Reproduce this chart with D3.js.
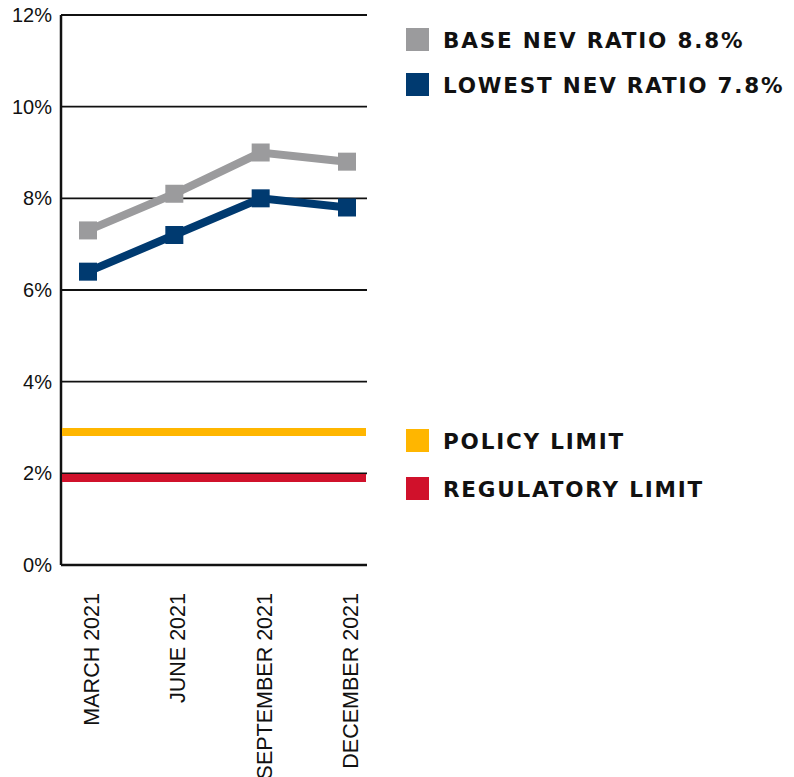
<!DOCTYPE html>
<html>
<head>
<meta charset="utf-8">
<script src="https://cdn.jsdelivr.net/npm/d3@7"></script>
<style>
  body { margin: 0; background: #fff; }
  .tick-y { font-family: "Liberation Sans", Arial, sans-serif; font-size: 20px; fill: #111; }
  .tick-x { font-family: "Liberation Sans", Arial, sans-serif; font-size: 21.5px; fill: #111; }
  .legend { font-family: "DejaVu Sans", sans-serif; font-weight: 700; font-size: 21.5px; fill: #111; letter-spacing: 1.8px; }
</style>
</head>
<body>
<div id="chart"></div>
<script>
// quarters on the x axis
var quarters = ["MARCH 2021", "JUNE 2021", "SEPTEMBER 2021", "DECEMBER 2021"];
// NEV ratios, percent
var baseNev = [7.3, 8.1, 9.0, 8.8];
var lowestNev = [6.4, 7.2, 8.0, 7.8];
// limits, percent
var policyLimit = 2.9;
var regulatoryLimit = 1.9;
var yTicks = [0, 2, 4, 6, 8, 10, 12];

var legendItems = [
  { label: "BASE NEV RATIO 8.8%", color: "#9b9b9d" },
  { label: "LOWEST NEV RATIO 7.8%", color: "#003a70" },
  { label: "POLICY LIMIT", color: "#ffb600" },
  { label: "REGULATORY LIMIT", color: "#d0112b" }
];

var width = 794, height = 777;
var plotLeft = 61, plotRight = 367, plotTop = 15, plotBottom = 565;

var svg = d3.select("#chart").append("svg")
    .attr("width", width)
    .attr("height", height);

var x = d3.scalePoint().domain(quarters).range([88, 347]);
var y = d3.scaleLinear().domain([0, 12]).range([plotBottom, plotTop]);

// gridlines
svg.append("g")
  .selectAll("line")
  .data(yTicks)
  .join("line")
    .attr("x1", plotLeft)
    .attr("x2", plotRight)
    .attr("y1", function(d) { return y(d); })
    .attr("y2", function(d) { return y(d); })
    .attr("stroke", "#111")
    .attr("stroke-width", function(d) { return d === 0 ? 2.5 : 1.8; });

// y axis line
svg.append("line")
    .attr("x1", plotLeft).attr("x2", plotLeft)
    .attr("y1", y(12)).attr("y2", y(0))
    .attr("stroke", "#111")
    .attr("stroke-width", 2.5);

// y labels
svg.append("g")
  .selectAll("text")
  .data(yTicks)
  .join("text")
    .attr("class", "tick-y")
    .attr("x", 52)
    .attr("y", function(d) { return y(d) + 7; })
    .attr("text-anchor", "end")
    .text(function(d) { return d + "%"; });

// x labels (rotated)
svg.append("g")
  .selectAll("text")
  .data(quarters)
  .join("text")
    .attr("class", "tick-x")
    .attr("text-anchor", "end")
    .attr("transform", function(d) {
      return "translate(" + (x(d) + 11) + ",593) rotate(-90)";
    })
    .text(function(d) { return d; });

// limit lines
function limitLine(v, color) {
  svg.append("line")
      .attr("x1", plotLeft + 1).attr("x2", plotRight - 1)
      .attr("y1", y(v)).attr("y2", y(v))
      .attr("stroke", color)
      .attr("stroke-width", 8);
}
limitLine(policyLimit, "#ffb600");
limitLine(regulatoryLimit, "#d0112b");

// series lines + square markers
var line = d3.line()
    .x(function(d, i) { return x(quarters[i]); })
    .y(function(d) { return y(d); });

function drawSeries(values, color) {
  svg.append("path")
      .datum(values)
      .attr("fill", "none")
      .attr("stroke", color)
      .attr("stroke-width", 8)
      .attr("d", line);
  svg.append("g")
    .selectAll("rect")
    .data(values)
    .join("rect")
      .attr("x", function(d, i) { return x(quarters[i]) - 9; })
      .attr("y", function(d) { return y(d) - 9; })
      .attr("width", 18)
      .attr("height", 18)
      .attr("fill", color);
}
drawSeries(baseNev, "#9b9b9d");
drawSeries(lowestNev, "#003a70");

// legend
var legendY = [28, 73, 429, 477];
var legend = svg.append("g")
  .selectAll("g")
  .data(legendItems)
  .join("g")
    .attr("transform", function(d, i) { return "translate(406," + legendY[i] + ")"; });

legend.append("rect")
    .attr("width", 23)
    .attr("height", 23)
    .attr("fill", function(d) { return d.color; });

legend.append("text")
    .attr("class", "legend")
    .attr("x", 37)
    .attr("y", 20)
    .text(function(d) { return d.label; });
</script>
</body>
</html>
